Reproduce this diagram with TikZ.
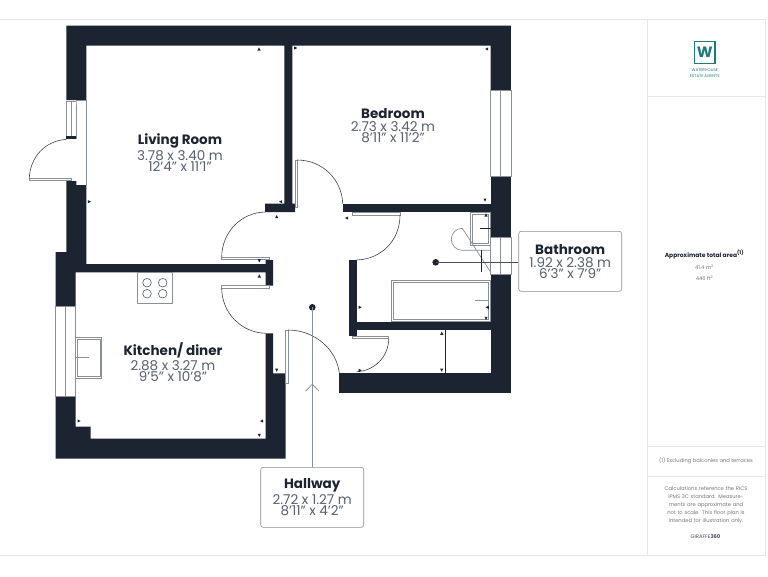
\documentclass[tikz,border=0pt]{standalone}
\usepackage{fontspec}
\setmainfont{Poppins}
\usetikzlibrary{calc}
\definecolor{wall}{HTML}{1B2430}
\definecolor{dimtext}{HTML}{56606E}
\definecolor{frameline}{HTML}{E6E6E6}
\definecolor{fixt}{HTML}{8A9098}
\definecolor{teal}{HTML}{1F7A80}
\definecolor{note}{HTML}{777777}
\tikzset{
  x=1pt,y=-1pt,
  wallfill/.style={fill=wall,draw=none},
  thin line/.style={draw=wall,line width=0.5pt},
  swing/.style={draw=wall!85,line width=0.6pt},
  leaf/.style={draw=fixt,fill=white,line width=0.7pt},
  fixture/.style={draw=fixt,fill=white,line width=1pt},
  glass/.style={draw=fixt,fill=white,line width=0.5pt},
  title/.style={font=\fontsize{13.5}{15}\selectfont\bfseries,text=wall},
  dims/.style={font=\fontsize{13.5}{15}\selectfont,text=dimtext},
  roomlabel/.style={align=center,inner sep=0pt},
  callout/.style={draw=fixt,fill=white,rounded corners=2.5pt,line width=0.6pt,align=center,inner sep=0pt},
  leader/.style={draw=wall!80,line width=0.7pt},
  panel/.style={draw=frameline,line width=0.8pt},
  tick/.style={fill=wall,draw=none},
  small/.style={font=\fontsize{5.2}{8}\selectfont,text=note,align=center,inner sep=0pt},
}
\newcommand{\tk}[3]{\fill[tick,shift={(#1,#2)},rotate=#3] (-1.6,1.5) -- (1.6,1.5) -- (0,-1.7) -- cycle;}
\begin{document}
\begin{tikzpicture}
\useasboundingbox (0,0) rectangle (768,576);
\fill[white] (0,0) rectangle (768,576);
% panel
\draw[panel] (0,19) -- (765,19) -- (765,555) -- (0,555);
\draw[panel] (647.3,19) -- (647.3,555);
\draw[panel] (647.3,96.5) -- (765,96.5);
\draw[panel] (647.3,446) -- (765,446);
\draw[panel] (647.3,476.5) -- (765,476.5);
% logo
\draw[teal,line width=1.3pt] (694.6,41.5) rectangle (715,63.5);
\node[inner sep=0pt,text=teal,font=\fontsize{15}{15}\selectfont\bfseries] (logo) at (704.8,52.5) {W};
\node[inner sep=0pt,text=teal,font=\fontsize{4}{6}\selectfont,align=center] (agent) at (704.8,72.8) {WATERHOUSE\\[-0.4pt]ESTATE AGENTS};
% walls
\fill[wallfill,even odd rule]
 (66.3,25.7) -- (510.8,25.7) -- (510.8,90) -- (490.7,90) -- (490.7,45.7) -- (292.3,45.7) -- (292.3,203.7) -- (295,203.7) -- (295,212) -- (265,212) -- (265,203.7) -- (284.3,203.7) -- (284.3,45.7) -- (86.3,45.7) -- (86.3,100) -- (66.3,100) -- cycle;
\fill[wallfill] (490.7,176.7) rectangle (510.8,237.3);
\fill[wallfill] (342.7,203.7) rectangle (490.7,212);
\fill[wallfill] (490.7,274.7) rectangle (510.8,393.3);
\fill[wallfill] (338.7,373.3) rectangle (510.8,393.3);
\fill[wallfill] (349,260) rectangle (356.7,336);
\fill[wallfill] (349,322) rectangle (490.7,330);
% left living wall + kitchen
\fill[wallfill] (66.3,181) -- (76.3,181) -- (76.3,185) -- (86.3,185) -- (86.3,264) -- (265.7,264) -- (265.7,260) -- (273,260) -- (273,285.7) -- (265.7,285.7) -- (265.7,272.3) -- (75.7,272.3) -- (75.7,306) -- (55.7,306) -- (55.7,252) -- (66.3,252) -- cycle;
\fill[wallfill] (55.7,396) -- (75.7,396) -- (75.7,426.7) -- (90.7,426.7) -- (90.7,438.7) -- (265.7,438.7) -- (265.7,333.3) -- (273,333.3) -- (273,373.3) -- (285.7,373.3) -- (285.7,458.7) -- (55.7,458.7) -- cycle;
% windows
\draw[glass] (490.7,90) rectangle (510.8,176.7);
\draw[glass] (500.5,90) -- (500.5,176.7);
\draw[glass] (490.7,237.3) rectangle (510.8,274.7);
\draw[glass] (500.5,237.3) -- (500.5,274.7);
\draw[glass] (55.7,306) rectangle (75.7,396);
\draw[glass] (65.7,306) -- (65.7,396);
% entrance door, living room
\draw[glass] (66.3,101) rectangle (76.3,138.7);
\draw[glass] (71.3,101) -- (71.3,138.7);
\fill[wallfill] (66.3,136) rectangle (76.3,138.7);
\draw[glass] (76.3,100) -- (86.3,100) -- (86.3,185);
\draw[leaf] (29.3,178.3) rectangle (71,180.8);
\draw[swing] (66.5,139.3) .. controls (44,141) and (30,158) .. (29.3,178.3);
% door leaves and swings
\draw[leaf] (295,160) rectangle (297.7,207.7);
\draw[swing] (297,160) .. controls (323,160) and (342,180) .. (342.7,203.7);
\draw[leaf] (352,212.3) rectangle (400,215);
\draw[swing] (400,215) .. controls (400,240) and (382,259) .. (356.7,260);
\draw[leaf] (221.7,257) rectangle (269.3,259.7);
\draw[swing] (265.3,212) .. controls (241,212.5) and (222,232) .. (221.7,257);
\draw[leaf] (221.7,285.7) rectangle (269.3,288.3);
\draw[swing] (221.7,288.3) .. controls (222,313) and (241,332.5) .. (265.7,333.3);
\draw[leaf] (285.7,330) rectangle (288.3,383);
\draw[swing] (288,330) .. controls (315,330) and (337,350) .. (339.3,373.3);
\draw[leaf] (352.3,336) rectangle (388.7,338.7);
\draw[swing] (388.7,338.7) .. controls (388.7,357) and (374,371) .. (356.7,371.7);
% stove
\draw[fixture] (137,272.3) rectangle (172.7,303.3);
\foreach \cx/\cy in {147/282.7,162.7/282.7,147/293.7,162.7/293.7} \draw[draw=wall!75,line width=0.6pt] (\cx,\cy) circle (4.3);
% kitchen sink
\draw[fixture] (75.7,337.3) rectangle (101.7,378.3);
\draw[glass] (77.3,339) rectangle (100,376.6);
\draw[draw=fixt,line width=0.7pt] (75.7,357.3) -- (89,357.3);
% bathroom basin
\draw[fixture] (470.7,212.7) rectangle (490,245);
\draw[glass] (472.4,214.5) rectangle (488.5,243.3);
\draw[thin line] (480,228.3) -- (490.7,228.3);
% toilet
\draw[draw=fixt,line width=0.7pt] (490.7,250.3) -- (462.3,250.3) arc[start angle=90,end angle=270,radius=11] -- (490.7,272.3);
\draw[thin line] (481.3,250.3) -- (481.3,272.3);
% bath
\draw[fixture] (391.7,280.3) rectangle (490,321);
\draw[glass] (393.3,282) rectangle (488.4,319.4);
\draw[draw=fixt,line width=0.7pt] (475.3,300.7) -- (489,300.7);
% cupboard line
\draw[thin line] (445.3,330) -- (445.3,373.3);
% ticks
\tk{259}{49}{0}
\tk{295.7}{48}{-90}
\tk{89.3}{201.7}{-90}
\tk{280.7}{201.7}{90}
\tk{276.7}{216.7}{0}
\tk{259.3}{260.7}{180}
\tk{259.3}{276}{0}
\tk{486.7}{49}{90}
\tk{485}{200}{180}
\tk{346.7}{218}{90}
\tk{486}{215}{0}
\tk{360}{307.3}{-90}
\tk{487.3}{307.3}{90}
\tk{486}{318.3}{180}
\tk{441.7}{333.3}{0}
\tk{441.7}{370}{180}
\tk{360}{370.3}{-90}
\tk{79}{421}{-90}
\tk{261.7}{421}{90}
\tk{259.3}{435.3}{180}
\tk{276.7}{370}{180}
% room labels
\node[roomlabel] (living) at (180,152.5) {{\fontsize{13.5}{17}\selectfont\bfseries\color{wall}Living Room}\\[1pt]{\fontsize{13.5}{16}\selectfont\color{dimtext}3.78 x 3.40 m}\\[-1pt]{\fontsize{13.5}{16}\selectfont\color{dimtext}12'4" x 11'1"}};
\node[roomlabel] (bedroom) at (393,125.5) {{\fontsize{13.5}{17}\selectfont\bfseries\color{wall}Bedroom}\\[1pt]{\fontsize{13.5}{16}\selectfont\color{dimtext}2.73 x 3.42 m}\\[-1pt]{\fontsize{13.5}{16}\selectfont\color{dimtext}8'11" x 11'2"}};
\node[roomlabel] (kitchen) at (173,362) {{\fontsize{13.5}{17}\selectfont\bfseries\color{wall}Kitchen/ diner}\\[1pt]{\fontsize{13.5}{16}\selectfont\color{dimtext}2.88 x 3.27 m}\\[-1pt]{\fontsize{13.5}{16}\selectfont\color{dimtext}9'5" x 10'8"}};
% callouts
\node[callout,minimum width=103pt,minimum height=60pt] (bath) at (570.2,261.3) {{\fontsize{13.5}{17}\selectfont\bfseries\color{wall}Bathroom}\\[1pt]{\fontsize{13.5}{16}\selectfont\color{dimtext}1.92 x 2.38 m}\\[-1pt]{\fontsize{13.5}{16}\selectfont\color{dimtext}6'3" x 7'9"}};
\node[callout,minimum width=103pt,minimum height=60pt] (hall) at (312.2,497.3) {{\fontsize{13.5}{17}\selectfont\bfseries\color{wall}Hallway}\\[1pt]{\fontsize{13.5}{16}\selectfont\color{dimtext}2.72 x 1.27 m}\\[-1pt]{\fontsize{13.5}{16}\selectfont\color{dimtext}8'11" x 4'2"}};
\fill[wall] (435.7,262.3) circle (3.3) coordinate (bathdot);
\fill[wall] (312.3,307.3) circle (3.3) coordinate (halldot);
\draw[leader] (bathdot) -- (bath.west |- bathdot);
\draw[draw=fixt,line width=0.8pt] (halldot) -- (halldot |- hall.north);
\coordinate (chev) at (312.3,384.3);
\draw[draw=fixt,line width=0.8pt] (305.7,391) -- (chev) -- (318.9,391);
% side text
\node[inner sep=0pt,text=wall,font=\fontsize{6}{8}\selectfont\bfseries] (area) at (704.5,254.5) {Approximate total area\textsuperscript{(1)}};
\node[small] (m2) at (704.5,267.5) {41.4 m\textsuperscript{2}};
\node[small] (ft2) at (704.5,278.5) {446 ft\textsuperscript{2}};
\node[small] (excl) at (706,460.5) {(1) Excluding balconies and terraces};
\node[small,text width=92pt] (calc) at (706,505.5) {Calculations reference the RICS IPMS 3C standard. Measurements are approximate and not to scale. This floor plan is intended for illustration only.};
\node[small,text=wall!80] (gir) at (705.5,536.5) {GIRAFFE\textbf{360}};
\end{tikzpicture}
\end{document}
